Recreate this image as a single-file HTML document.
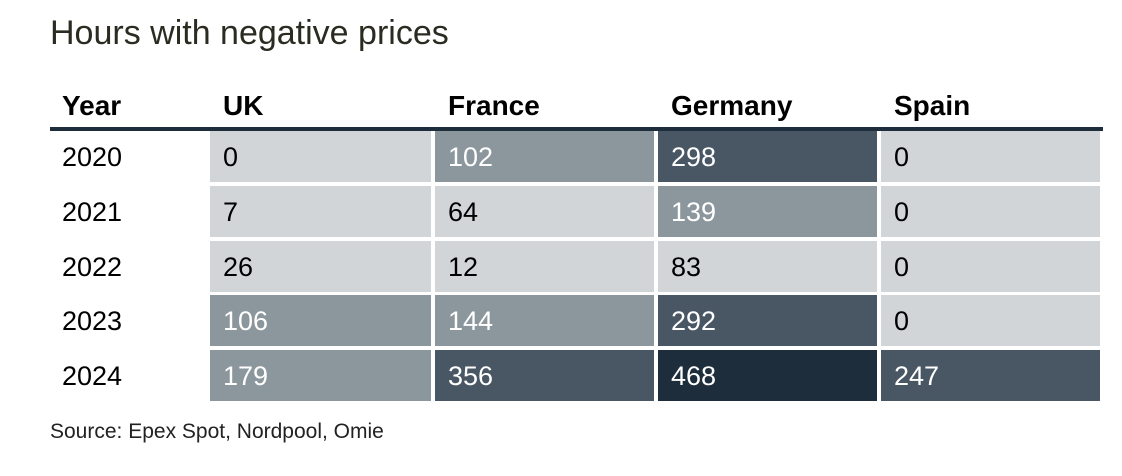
<!DOCTYPE html>
<html><head><meta charset="utf-8"><style>
body{margin:0;width:1122px;height:476px;background:#fff;font-family:"Liberation Sans",Arial,sans-serif;position:relative;overflow:hidden}
.t{position:absolute;white-space:nowrap}
.cell{position:absolute;height:51px;box-sizing:border-box;padding-left:13px;font-size:27px;line-height:53px}
</style></head><body>
<div class="t" style="left:50px;top:14px;font-size:34px;color:#2b2b22">Hours with negative prices</div>
<div id="hdr"></div>
<div style="position:absolute;left:50px;top:127px;width:1053px;height:4px;background:#1e2d3b"></div>
<div id="body"></div>
<div class="t" style="left:50px;top:420px;font-size:21px;color:#222">Source: Epex Spot, Nordpool, Omie</div>
<script>
const years=["2020","2021","2022","2023","2024"];
const countries=["UK","France","Germany","Spain"];
const uk=[0,7,26,106,179];
const france=[102,64,12,144,356];
const germany=[298,139,83,292,468];
const spain=[0,0,0,0,247];
const series=[uk,france,germany,spain];
const colX=[210,435,658,881], colW=[221,219,219,219];
const rowY=i=>131+i*54.8;
function shade(v){
  if(v>=400) return ["#1d2d3c","#fff"];
  if(v>=200) return ["#495764","#fff"];
  if(v>=100) return ["#8c969d","#fff"];
  return ["#d1d5d8","#000"];
}
const hdr=document.getElementById('hdr');
const mk=(txt,x,name)=>{const d=document.createElement('div');d.className='t';d.style.cssText=`left:${x}px;top:90px;font-size:28px;font-weight:bold;color:#000`;d.textContent=txt;


hdr.appendChild(d);};
mk("Year",62,"header-year");
countries.forEach((c,j)=>mk(c,colX[j]+13,"header-"+c.toLowerCase()));
const body=document.getElementById('body');
years.forEach((y,i)=>{
  const yl=document.createElement('div');yl.className='cell';yl.style.cssText=`left:49px;top:${rowY(i)}px;color:#000`;yl.textContent=y;
  
  
  body.appendChild(yl);
  series.forEach((s,j)=>{
    const [bg,fg]=shade(s[i]);
    const c=document.createElement('div');c.className='cell';
    c.style.cssText=`left:${colX[j]}px;top:${rowY(i)}px;width:${colW[j]}px;background:${bg};color:${fg}`;
    c.textContent=s[i];
    
    
    body.appendChild(c);
  });
});
</script>
</body></html>
